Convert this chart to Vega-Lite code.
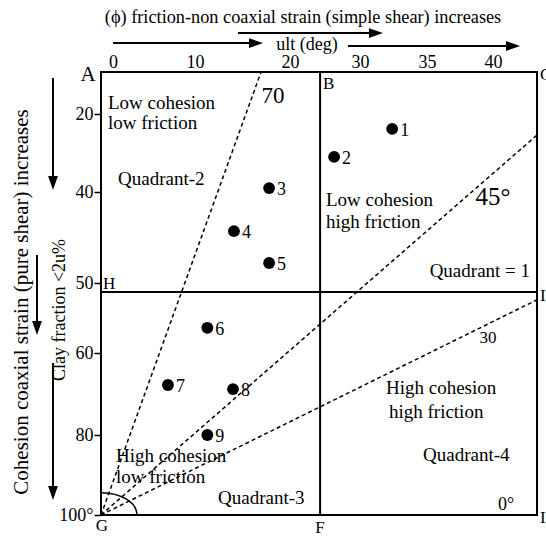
{
  "$schema": "https://vega.github.io/schema/vega-lite/v6.json",
  "width": 436,
  "height": 443,
  "autosize": {"type": "none"},
  "padding": {"left": 101, "top": 72, "right": 9, "bottom": 21},
  "background": "white",
  "config": {
    "view": {"stroke": "black", "strokeWidth": 2},
    "font": "Liberation Serif",
    "text": {"font": "Liberation Serif", "color": "black", "baseline": "middle"}
  },
  "datasets": {
    "points": [
      {"id": "1", "x": 32.4, "y": 23.8},
      {"id": "2", "x": 26.3, "y": 31.0},
      {"id": "3", "x": 17.8, "y": 39.0},
      {"id": "4", "x": 14.1, "y": 44.3},
      {"id": "5", "x": 17.8, "y": 47.8},
      {"id": "6", "x": 11.3, "y": 56.4},
      {"id": "7", "x": 6.7, "y": 67.8},
      {"id": "8", "x": 14.0, "y": 68.8},
      {"id": "9", "x": 11.3, "y": 80.0}
    ],
    "solid": [
      {"x": 24.3, "y": 9.2, "x2": 24.3, "y2": 100},
      {"x": -1.5, "y": 51.3, "x2": 43.3, "y2": 51.3},
      {"x": 0, "y": 1.75, "x2": 16.42, "y2": 1.75},
      {"x": 14.53, "y": -0.82, "x2": 31.19, "y2": -0.82},
      {"x": 28.29, "y": 2.52, "x2": 41.5, "y2": 2.52},
      {"x": -7.5, "y": 10.75, "x2": -7.5, "y2": 37.69},
      {"x": -9.5, "y": 46.92, "x2": -9.5, "y2": 56.43},
      {"x": -7.5, "y": 62.44, "x2": -7.5, "y2": 94.5}
    ],
    "dashed": [
      {"x": -1.5, "y": 100, "x2": 16.95, "y2": 9.2},
      {"x": -1.5, "y": 100, "x2": 43.3, "y2": 25.4},
      {"x": -1.5, "y": 100, "x2": 43.3, "y2": 52.4}
    ],
    "heads": [
      {"x": 16.42, "y": 1.75, "dir": "right"},
      {"x": 31.19, "y": -0.82, "dir": "right"},
      {"x": 41.5, "y": 2.52, "dir": "right"},
      {"x": -7.5, "y": 37.69, "dir": "down"},
      {"x": -9.5, "y": 56.43, "dir": "down"},
      {"x": -7.5, "y": 94.5, "dir": "down"}
    ],
    "origin": [
      {"x": -1.5, "y": 100}
    ],
    "labels": [
      {"t": "(ϕ) friction-non coaxial strain (simple shear) increases", "x": 21.86, "y": -4.68, "a": "center", "fs": 18.3, "ang": 0},
      {"t": "ult (deg)", "x": 22.43, "y": 2.2, "a": "center", "fs": 18, "ang": 0},
      {"t": "A", "x": -3.125, "y": 9.97, "a": "center", "fs": 21, "ang": 0},
      {"t": "B", "x": 24.71, "y": 12.29, "a": "left", "fs": 17, "ang": 0},
      {"t": "C", "x": 43.53, "y": 9.97, "a": "left", "fs": 17, "ang": 0},
      {"t": "H", "x": -1.25, "y": 50.14, "a": "left", "fs": 17, "ang": 0},
      {"t": "I", "x": 43.53, "y": 51.86, "a": "left", "fs": 17, "ang": 0},
      {"t": "I", "x": 43.53, "y": 100.75, "a": "left", "fs": 17, "ang": 0},
      {"t": "G", "x": -1.375, "y": 102.75, "a": "center", "fs": 17, "ang": 0},
      {"t": "F", "x": 24.29, "y": 103.25, "a": "center", "fs": 17, "ang": 0},
      {"t": "Low cohesion", "x": -0.625, "y": 17.17, "a": "left", "fs": 19, "ang": 0},
      {"t": "low  friction", "x": -0.625, "y": 22.31, "a": "left", "fs": 19, "ang": 0},
      {"t": "Quadrant-2", "x": 0.61, "y": 36.67, "a": "left", "fs": 19, "ang": 0},
      {"t": "70", "x": 18.21, "y": 15.37, "a": "center", "fs": 23, "ang": 0},
      {"t": "Low cohesion", "x": 25.14, "y": 40.88, "a": "left", "fs": 19, "ang": 0},
      {"t": "high  friction", "x": 25.14, "y": 43.3, "a": "left", "fs": 19, "ang": 0},
      {"t": "45°", "x": 40.0, "y": 40.55, "a": "center", "fs": 25, "ang": 0},
      {"t": "Quadrant = 1", "x": 42.78, "y": 48.68, "a": "right", "fs": 19, "ang": 0},
      {"t": "30", "x": 39.62, "y": 57.86, "a": "center", "fs": 17, "ang": 0},
      {"t": "High cohesion", "x": 31.94, "y": 68.54, "a": "left", "fs": 19, "ang": 0},
      {"t": "high  friction", "x": 32.16, "y": 74.39, "a": "left", "fs": 19, "ang": 0},
      {"t": "Quadrant-4", "x": 34.7, "y": 85.0, "a": "left", "fs": 19, "ang": 0},
      {"t": "0°", "x": 40.38, "y": 97.5, "a": "left", "fs": 18, "ang": 0},
      {"t": "High cohesion", "x": 0.37, "y": 85.2, "a": "left", "fs": 19, "ang": 0},
      {"t": "low  friction", "x": 0.37, "y": 90.6, "a": "left", "fs": 19, "ang": 0},
      {"t": "Quadrant-3", "x": 12.42, "y": 95.75, "a": "left", "fs": 19, "ang": 0},
      {"t": "Cohesion coaxial strain (pure shear) increases", "x": -11.375, "y": 52.71, "a": "center", "fs": 21, "ang": 270},
      {"t": "Clay fraction <2u%", "x": -6.625, "y": 53.86, "a": "center", "fs": 18, "ang": 270}
    ]
  },
  "encoding": {
    "x": {
      "field": "x",
      "type": "quantitative",
      "scale": {
        "domain": [-1.5, 0, 10, 20, 30, 35, 40, 43.3],
        "range": [0, 12, 94, 189, 259, 326, 392, 436],
        "nice": false,
        "zero": false
      },
      "axis": {
        "orient": "top",
        "values": [0, 10, 20, 30, 35, 40],
        "ticks": false,
        "domain": false,
        "grid": false,
        "title": null,
        "labelFont": "Liberation Serif",
        "labelFontSize": 18,
        "labelColor": "black",
        "labelPadding": 1,
        "labelFlush": false,
        "labelOverlap": false
      }
    },
    "y": {
      "field": "y",
      "type": "quantitative",
      "scale": {
        "domain": [9.2, 20, 40, 50, 60, 80, 100],
        "range": [0, 42, 120, 211, 281, 363, 443],
        "nice": false,
        "zero": false
      },
      "axis": {
        "values": [20, 40, 50, 60, 80, 100],
        "labelExpr": "datum.value == 100 ? '100°' : datum.label",
        "tickSize": 7,
        "tickColor": "black",
        "tickWidth": 1.5,
        "domain": false,
        "grid": false,
        "title": null,
        "labelFont": "Liberation Serif",
        "labelFontSize": 18,
        "labelColor": "black",
        "labelPadding": 1,
        "labelFlush": false,
        "labelOverlap": false
      }
    }
  },
  "layer": [
    {
      "data": {"name": "solid"},
      "mark": {"type": "rule", "stroke": "black", "strokeWidth": 2},
      "encoding": {"x2": {"field": "x2"}, "y2": {"field": "y2"}}
    },
    {
      "data": {"name": "dashed"},
      "mark": {"type": "rule", "stroke": "black", "strokeWidth": 1.5, "strokeDash": [4, 3]},
      "encoding": {"x2": {"field": "x2"}, "y2": {"field": "y2"}}
    },
    {
      "data": {"name": "heads"},
      "mark": {"type": "point", "filled": true, "color": "black", "size": 196, "opacity": 1},
      "encoding": {
        "shape": {
          "field": "dir",
          "type": "nominal",
          "scale": {
            "domain": ["right", "down"],
            "range": ["M -1 -0.7 L 1 0 L -1 0.7 Z", "M -0.7 -1 L 0 1 L 0.7 -1 Z"]
          },
          "legend": null
        }
      }
    },
    {
      "data": {"name": "origin"},
      "mark": {"type": "point", "filled": false, "stroke": "black", "strokeWidth": 1.5, "opacity": 1, "size": 5184, "shape": "M 0 -0.62 A 1 0.62 0 0 1 1 0"}
    },
    {
      "data": {"name": "points"},
      "mark": {"type": "point", "filled": true, "color": "black", "size": 140, "opacity": 1}
    },
    {
      "data": {"name": "points"},
      "mark": {"type": "text", "align": "left", "dx": 8, "dy": 2, "fontSize": 18},
      "encoding": {"text": {"field": "id"}}
    },
    {
      "data": {"name": "labels"},
      "transform": [{"filter": "datum.a == 'left'"}],
      "mark": {"type": "text", "align": "left"},
      "encoding": {
        "text": {"field": "t"},
        "size": {"field": "fs", "type": "quantitative", "scale": null},
        "angle": {"field": "ang", "type": "quantitative", "scale": null}
      }
    },
    {
      "data": {"name": "labels"},
      "transform": [{"filter": "datum.a == 'center'"}],
      "mark": {"type": "text", "align": "center"},
      "encoding": {
        "text": {"field": "t"},
        "size": {"field": "fs", "type": "quantitative", "scale": null},
        "angle": {"field": "ang", "type": "quantitative", "scale": null}
      }
    },
    {
      "data": {"name": "labels"},
      "transform": [{"filter": "datum.a == 'right'"}],
      "mark": {"type": "text", "align": "right"},
      "encoding": {
        "text": {"field": "t"},
        "size": {"field": "fs", "type": "quantitative", "scale": null},
        "angle": {"field": "ang", "type": "quantitative", "scale": null}
      }
    }
  ]
}
